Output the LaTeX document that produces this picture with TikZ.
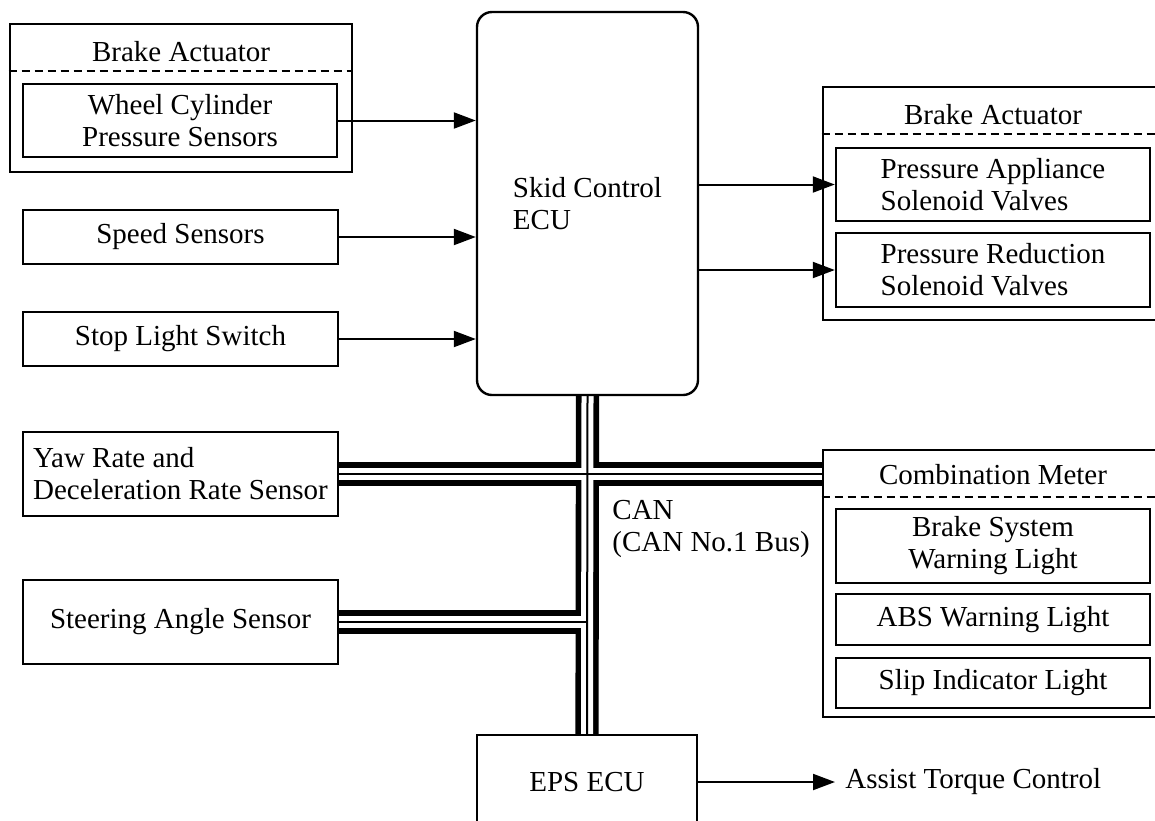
\documentclass[tikz,border=0pt]{standalone}
\usepackage{fontspec}
\setmainfont{Liberation Serif}
\usetikzlibrary{arrows.meta, positioning, backgrounds}

\begin{document}
\begin{tikzpicture}[x=0.5pt, y=-0.5pt, font=\fontsize{14.5}{16}\selectfont,
		box/.style={draw, line width=1.2pt, inner sep=0pt, minimum width=157.5pt},
		group/.style={draw, line width=1.3pt, inner sep=0pt},
		divider/.style={line width=0.9pt, dash pattern=on 4pt off 2.5pt},
		sig/.style={line width=1pt, -{Triangle[length=11pt, width=8pt]}}]
			\useasboundingbox (0,0) rectangle (1155,820);
			% inputs
			\node[group, minimum width=171pt, minimum height=74pt] (ba1) at (181,98) {};
			\node (ba1t) at (181,52) {Brake Actuator};
			\draw[divider] ([yshift=-24pt]ba1.north west) -- ([yshift=-24pt]ba1.north east);
			\node[box, minimum width=157pt, minimum height=36.5pt, align=center] (wcps) at (180,120.5) {Wheel Cylinder\\Pressure Sensors};
			\node[box, minimum height=27pt] (speed) at (180.5,237) {Speed Sensors};
			\node[box, minimum height=27pt] (stop) at (180.5,339) {Stop Light Switch};
			\node[box, minimum height=42pt, align=left] (yaw) at (180.5,474) {Yaw Rate and\\Deceleration Rate Sensor};
			\node[box, minimum height=42pt] (steer) at (180.5,622) {Steering Angle Sensor};
			% ECUs
			\node[draw, line width=1.2pt, rounded corners=7.5pt, minimum width=110.5pt, minimum height=191.5pt, align=left] (ecu) at (587.5,203.5) {Skid Control\\ECU};
			\node[draw, line width=1.2pt, minimum width=110pt, minimum height=47pt] (eps) at (587,782) {EPS ECU};
			\node[anchor=west, inner xsep=5pt, inner ysep=0pt] (atc) at (835,782) {Assist Torque Control};
			\node[anchor=north west, inner sep=0pt, align=left] (can) at (612,500) {CAN\\(CAN No.1 Bus)};
			% outputs
			\node[group, minimum width=170pt, minimum height=116.5pt] (ba2) at (993,203.5) {};
			\node (ba2t) at (993,115) {Brake Actuator};
			\draw[divider] ([yshift=-24pt]ba2.north west) -- ([yshift=-24pt]ba2.north east);
			\node[box, minimum width=157pt, minimum height=36.5pt, align=left] (pa) at (993,184.5) {Pressure Appliance\\Solenoid Valves};
			\node[box, minimum width=157pt, minimum height=37pt, align=left] (pr) at (993,270) {Pressure Reduction\\Solenoid Valves};
			\node[group, minimum width=170pt, minimum height=133.5pt] (cm) at (993,583.5) {};
			\node (cmt) at (993,475) {Combination Meter};
			\draw[divider] ([yshift=-24pt]cm.north west) -- ([yshift=-24pt]cm.north east);
			\node[box, minimum width=157pt, minimum height=37pt, align=center] (bswl) at (993,546) {Brake System\\Warning Light};
			\node[box, minimum width=157pt, minimum height=25.5pt] (abs) at (993,619.5) {ABS Warning Light};
			\node[box, minimum width=157pt, minimum height=25pt] (slip) at (993,683) {Slip Indicator Light};
			% signal lines
			\draw[sig] (wcps.east) -- (wcps.east -| ecu.west);
			\draw[sig] (speed.east) -- (speed.east -| ecu.west);
			\draw[sig] (stop.east) -- (stop.east -| ecu.west);
			\draw[sig] (ecu.east |- pa.west) -- (pa.west);
			\draw[sig] (ecu.east |- pr.west) -- (pr.west);
			\draw[sig] (eps.east) -- (atc.west);
			% CAN bus
			\begin{scope}[on background layer]
				\foreach \w/\c in {11.6pt/black, 6pt/white, 1pt/black} {
					\draw[line width=\w, \c] (ecu.south) -- (eps.north);
					\draw[line width=\w, \c] (yaw.east) -- (yaw.east -| cm.west);
					\draw[line width=\w, \c] (steer.east) -- (steer.east -| ecu.south);
				}
			\end{scope}
		\end{tikzpicture}
\end{document}
